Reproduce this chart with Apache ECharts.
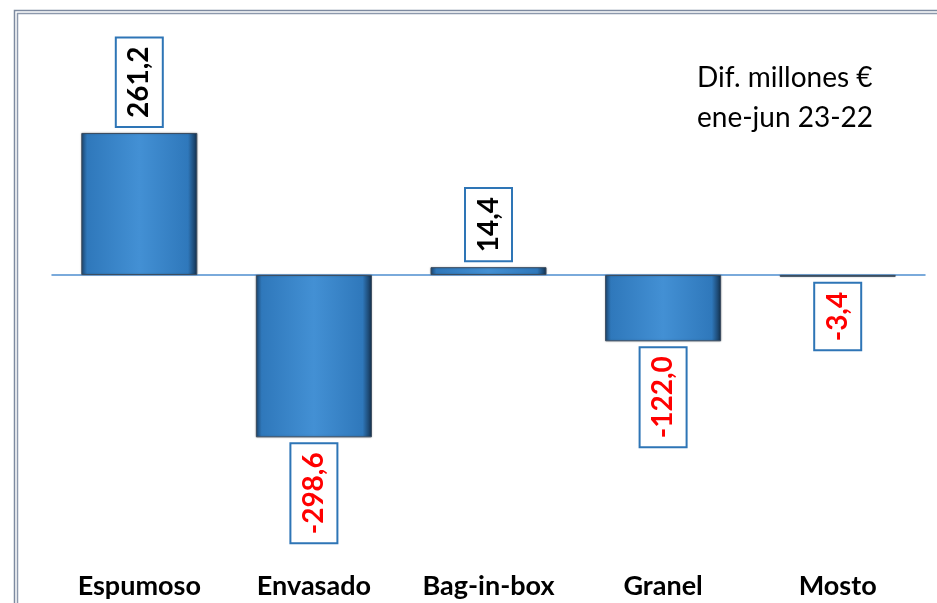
<!DOCTYPE html>
<html>
<head>
<meta charset="utf-8">
<script src="https://cdn.jsdelivr.net/npm/echarts@6/dist/echarts.min.js"></script>
<style>
  html, body { margin: 0; padding: 0; background: #fff; }
  #chart { width: 937px; height: 603px; }
</style>
</head>
<body>
<div id="chart"></div>
<script>
// datos: diferencia ene-jun 23 vs 22, millones de euros
const categorias = ["Espumoso", "Envasado", "Bag-in-box", "Granel", "Mosto"];
const diferencias = [261.2, -298.6, 14.4, -122.0, -3.4];
const notaLineas = ["Dif. millones €", "ene-jun 23-22"];

const FONT = "Lato, 'Open Sans', sans-serif";

// relleno tipo bisel como en el original
const barFill = new echarts.graphic.LinearGradient(0, 0, 1, 0, [
  { offset: 0, color: "#1c466f" },
  { offset: 0.05, color: "#2f78bb" },
  { offset: 0.5, color: "#4390d4" },
  { offset: 0.92, color: "#2f78bb" },
  { offset: 1, color: "#14314f" }
]);

function labelFor(v) {
  const pos = v >= 0;
  return {
    show: true,
    position: pos ? "top" : "bottom",
    distance: 7,
    rotate: 90,
    align: pos ? "left" : "right",
    verticalAlign: "middle",
    fontFamily: FONT,
    fontWeight: "bold",
    fontSize: 28,
    lineHeight: 28,
    color: pos ? "#000" : "#ff0000",
    backgroundColor: "#fff",
    borderColor: "#2e75b6",
    borderWidth: 2,
    padding: [9, 8, 8, 8],
    formatter: () => v.toFixed(1).replace(".", ",")
  };
}

const chart = echarts.init(document.getElementById("chart"));
chart.setOption({
  animation: false,
  title: {
    text: notaLineas.join("\n"),
    left: 697,
    top: 58,
    padding: 0,
    textStyle: {
      fontFamily: FONT,
      fontWeight: "normal",
      fontSize: 28,
      lineHeight: 40,
      color: "#000"
    }
  },
  grid: { left: 52, right: 12, top: 57.5, bottom: 34.4 },
  xAxis: [
    {
      type: "category",
      data: categorias,
      axisLine: { onZero: true, lineStyle: { color: "#4f8fcf", width: 1.5 } },
      axisTick: { show: false },
      axisLabel: { show: false }
    },
    {
      type: "category",
      data: categorias,
      position: "bottom",
      axisLine: { show: false, onZero: false },
      axisTick: { show: false },
      axisLabel: {
        margin: 4,
        fontFamily: FONT,
        fontWeight: "bold",
        fontSize: 27,
        color: "#000"
      }
    }
  ],
  yAxis: {
    type: "value",
    min: -540,
    max: 400,
    show: false,
    splitLine: { show: false }
  },
  graphic: [
    {
      type: "rect",
      shape: { x: 14.5, y: 10.5, width: 1000, height: 1000 },
      style: { fill: null, stroke: "#7d8aa0", lineWidth: 1.5 },
      silent: true
    },
    {
      type: "rect",
      shape: { x: 17.5, y: 13.5, width: 1000, height: 1000 },
      style: { fill: null, stroke: "#8c98ac", lineWidth: 1.5 },
      silent: true
    }
  ],
  series: [
    {
      type: "bar",
      xAxisIndex: 0,
      barWidth: 116,
      data: diferencias.map(v => ({ value: v, label: labelFor(v) })),
      itemStyle: {
        color: barFill,
        borderColor: "#3c4d60",
        borderWidth: 1,
        shadowColor: "rgba(0,0,0,0.25)",
        shadowBlur: 2
      }
    }
  ]
});
</script>
</body>
</html>
